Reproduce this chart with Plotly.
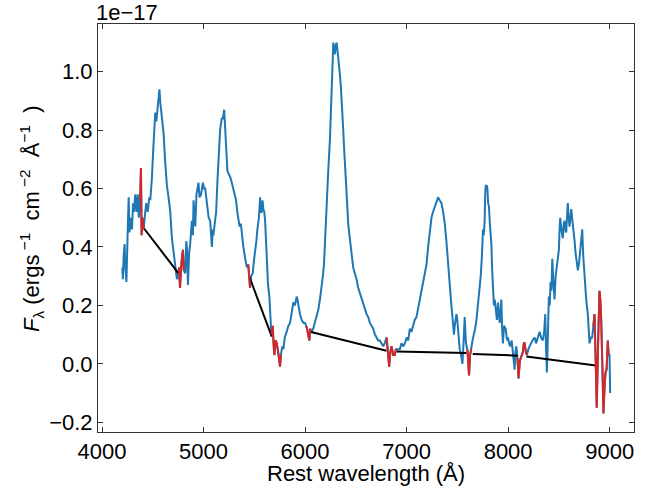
import numpy as np
import plotly.graph_objects as go

# observed spectrum, flux in units of 1e-17 erg/s/cm^2/A
wave = [4200, 4205, 4213, 4222, 4229, 4240, 4250, 4262, 4270, 4285, 4295, 4305, 4315, 4327,
        4340, 4352, 4362, 4375, 4383, 4390, 4399, 4410, 4420, 4435, 4450, 4465, 4475, 4490,
        4505, 4515, 4524, 4535, 4545, 4556, 4565, 4575, 4590, 4606, 4622, 4639, 4655, 4672,
        4688, 4705, 4721, 4737, 4750, 4758, 4768, 4778, 4787, 4797, 4805, 4819, 4830, 4836,
        4846, 4858, 4868, 4885, 4895, 4901, 4910, 4918, 4930, 4940, 4950, 4960, 4975, 4993,
        5005, 5016, 5028, 5038, 5050, 5065, 5075, 5082, 5090, 5097, 5110, 5124, 5137, 5146,
        5156, 5163, 5170, 5180, 5190, 5203, 5212, 5222, 5235, 5248, 5262, 5278, 5294, 5307,
        5320, 5332, 5343, 5355, 5367, 5380, 5392, 5410, 5426, 5440, 5450, 5458, 5468, 5484,
        5495, 5507, 5520, 5530, 5545, 5557, 5565, 5573, 5581, 5589, 5598, 5606, 5615, 5622,
        5635, 5648, 5658, 5668, 5681, 5690, 5697, 5710, 5721, 5735, 5745, 5753, 5762, 5775,
        5786, 5800, 5819, 5835, 5852, 5868, 5884, 5900, 5917, 5925, 5933, 5950, 5967, 5985,
        6000, 6010, 6020, 6030, 6042, 6050, 6058, 6065, 6080, 6097, 6115, 6130, 6146, 6163,
        6175, 6186, 6200, 6212, 6228, 6245, 6255, 6262, 6270, 6278, 6286, 6294, 6302, 6311,
        6320, 6327, 6335, 6343, 6352, 6360, 6368, 6376, 6384, 6392, 6400, 6409, 6417, 6425,
        6437, 6449, 6460, 6474, 6490, 6507, 6523, 6540, 6556, 6572, 6590, 6606, 6622, 6638,
        6655, 6671, 6688, 6704, 6720, 6737, 6753, 6769, 6785, 6802, 6815, 6828, 6840, 6852,
        6868, 6884, 6895, 6910, 6933, 6950, 6968, 6983, 7000, 7016, 7032, 7048, 7064, 7080,
        7097, 7113, 7130, 7146, 7163, 7180, 7196, 7212, 7228, 7245, 7260, 7277, 7293, 7310,
        7326, 7343, 7360, 7376, 7392, 7408, 7425, 7441, 7457, 7466, 7474, 7491, 7497, 7510,
        7523, 7537, 7550, 7562, 7572, 7585, 7598, 7605, 7615, 7625, 7638, 7650, 7661, 7675,
        7688, 7700, 7713, 7730, 7742, 7752, 7760, 7769, 7774, 7779, 7790, 7796, 7803, 7811,
        7820, 7835, 7843, 7851, 7860, 7868, 7877, 7890, 7900, 7908, 7917, 7925, 7933, 7941,
        7949, 7960, 7976, 7990, 7999, 8010, 8022, 8035, 8047, 8056, 8064, 8072, 8081, 8092,
        8103, 8115, 8130, 8145, 8155, 8162, 8175, 8185, 8200, 8210, 8225, 8240, 8261, 8275,
        8290, 8310, 8325, 8342, 8355, 8366, 8374, 8382, 8392, 8401, 8410, 8418, 8427, 8435,
        8446, 8457, 8468, 8480, 8490, 8500, 8507, 8513, 8525, 8539, 8548, 8556, 8564, 8572,
        8580, 8588, 8596, 8605, 8614, 8622, 8633, 8644, 8655, 8664, 8675, 8687, 8700, 8710,
        8720, 8730, 8740, 8753, 8769, 8785, 8795, 8802, 8815, 8828, 8840, 8851, 8862, 8873,
        8885, 8900, 8908, 8917, 8928, 8939, 8950, 8959, 8970, 8982, 8990, 8999, 9005]
flux = [0.33, 0.29, 0.37, 0.41, 0.33, 0.28, 0.42, 0.57, 0.45, 0.50, 0.46, 0.55, 0.52, 0.58,
        0.52, 0.58, 0.50, 0.56, 0.67, 0.44, 0.50, 0.46, 0.50, 0.55, 0.52, 0.57, 0.56, 0.63,
        0.74, 0.80, 0.86, 0.83, 0.86, 0.91, 0.94, 0.89, 0.84, 0.79, 0.69, 0.61, 0.57, 0.52,
        0.43, 0.38, 0.32, 0.29, 0.30, 0.33, 0.26, 0.33, 0.37, 0.39, 0.32, 0.31, 0.42, 0.40,
        0.27, 0.38, 0.41, 0.49, 0.44, 0.56, 0.50, 0.47, 0.58, 0.60, 0.62, 0.57, 0.58, 0.62,
        0.60, 0.60, 0.56, 0.54, 0.50, 0.49, 0.45, 0.40, 0.46, 0.44, 0.48, 0.52, 0.63, 0.70,
        0.74, 0.80, 0.82, 0.84, 0.84, 0.87, 0.81, 0.72, 0.66, 0.65, 0.64, 0.62, 0.60, 0.58,
        0.56, 0.52, 0.49, 0.47, 0.48, 0.43, 0.40, 0.36, 0.33, 0.34, 0.29, 0.26, 0.30, 0.31,
        0.35, 0.38, 0.42, 0.46, 0.50, 0.57, 0.52, 0.52, 0.56, 0.53, 0.52, 0.49, 0.40, 0.33,
        0.27, 0.23, 0.15, 0.10, 0.13, 0.06, 0.03, 0.08, 0.07, 0.04, 0.01, -0.01, 0.03, 0.06,
        0.05, 0.09, 0.11, 0.13, 0.14, 0.18, 0.21, 0.20, 0.23, 0.22, 0.20, 0.17, 0.15, 0.14,
        0.14, 0.13, 0.12, 0.10, 0.08, 0.12, 0.11, 0.11, 0.12, 0.14, 0.16, 0.185, 0.22, 0.26,
        0.30, 0.34, 0.45, 0.57, 0.66, 0.77, 0.85, 0.91, 1.02, 1.10, 1.07, 1.06, 1.09, 1.10,
        1.07, 1.05, 1.02, 0.99, 0.95, 0.91, 0.86, 0.80, 0.74, 0.69, 0.62, 0.57, 0.52, 0.48,
        0.44, 0.40, 0.37, 0.33, 0.31, 0.29, 0.26, 0.24, 0.23, 0.21, 0.19, 0.17, 0.16, 0.14,
        0.13, 0.12, 0.10, 0.09, 0.08, 0.08, 0.07, 0.06, 0.07, 0.09, 0.05, -0.01, 0.04, 0.06,
        0.03, 0.03, 0.05, 0.05, 0.05, 0.07, 0.06, 0.07, 0.09, 0.08, 0.12, 0.11, 0.13, 0.15,
        0.16, 0.19, 0.21, 0.25, 0.28, 0.31, 0.34, 0.40, 0.46, 0.50, 0.52, 0.54, 0.55, 0.57,
        0.56, 0.55, 0.52, 0.48, 0.42, 0.34, 0.25, 0.20, 0.14, 0.10, 0.13, 0.17, 0.16, 0.09,
        0.05, 0.03, 0.00, 0.08, 0.16, 0.07, 0.05, 0.02, -0.04, 0.03, 0.05, 0.08, 0.10, 0.12,
        0.15, 0.19, 0.24, 0.30, 0.37, 0.46, 0.44, 0.49, 0.58, 0.61, 0.61, 0.60, 0.55, 0.54,
        0.48, 0.41, 0.32, 0.24, 0.20, 0.22, 0.185, 0.15, 0.21, 0.16, 0.14, 0.18, 0.22, 0.12,
        0.07, 0.13, 0.12, 0.08, 0.09, 0.07, 0.06, 0.08, 0.03, 0.01, -0.02, 0.04, 0.06, 0.02,
        -0.05, 0.01, 0.03, 0.04, 0.07, 0.07, 0.04, 0.03, 0.05, 0.06, 0.07, 0.08, 0.09, 0.07,
        0.09, 0.11, 0.09, 0.08, 0.11, 0.17, 0.05, -0.03, 0.10, 0.23, 0.20, 0.28, 0.25, 0.36,
        0.28, 0.22, 0.30, 0.34, 0.36, 0.39, 0.46, 0.50, 0.46, 0.43, 0.48, 0.49, 0.46, 0.45,
        0.50, 0.55, 0.50, 0.47, 0.50, 0.53, 0.49, 0.46, 0.42, 0.38, 0.35, 0.32, 0.35, 0.38,
        0.41, 0.46, 0.37, 0.29, 0.22, 0.17, 0.11, 0.07, 0.09, 0.09, 0.13, 0.17, 0.02, -0.15,
        0.05, 0.25, 0.22, 0.15, 0.00, -0.17, -0.08, -0.03, -0.02, 0.08, 0.03, 0.03, -0.10]

# continuum windows (A) highlighted in red
win_lo = [4375, 4752, 5435, 5662, 6005, 6798, 7595, 8088, 8838]
win_hi = [4412, 4805, 5462, 5765, 6062, 6898, 7642, 8188, 8992]

# straight continuum segments between windows
cont_wave = [4410, 4753, None, 5451, 5672, None, 6048, 6802, None,
             6901, 7589, None, 7651, 8094, None, 8179, 8884]
cont_flux = [0.465, 0.31, None, 0.298, 0.093, None, 0.110, 0.045, None,
             0.042, 0.037, None, 0.034, 0.028, None, 0.025, -0.007]

w = np.array(wave, dtype=float)
f = np.array(flux, dtype=float)
in_win = np.zeros(len(w), dtype=bool)
for lo, hi in zip(win_lo, win_hi):
    in_win |= (w >= lo) & (w <= hi)
f_red = np.where(in_win, f, np.nan)

font = "Liberation Sans, Arial, sans-serif"
nb = "\u00a0"

fig = go.Figure()
fig.add_trace(go.Scatter(x=w, y=f, mode='lines',
                         line=dict(color='#1f77b4', width=2)))
fig.add_trace(go.Scatter(x=cont_wave, y=cont_flux, mode='lines',
                         line=dict(color='black', width=2)))
fig.add_trace(go.Scatter(x=w, y=f_red, mode='lines', connectgaps=False,
                         line=dict(color='#d62728', width=2)))

axis_style = dict(showline=True, linecolor='#333', linewidth=1, mirror='ticks',
                  ticks='inside', ticklen=5, tickcolor='#333', showgrid=False,
                  zeroline=False, tickfont=dict(size=22, color='black'))

fig.update_xaxes(range=[3960, 9240], tickvals=[4000, 5000, 6000, 7000, 8000, 9000],
                 **axis_style)
fig.update_yaxes(range=[-0.2335, 1.1635], tickvals=[-0.2, 0.0, 0.2, 0.4, 0.6, 0.8, 1.0],
                 tickformat='.1f', **axis_style)

ylabel = (f'<i>F</i><sub>λ</sub> (ergs<sup>{nb}−1</sup>{nb}{nb}cm<sup>{nb}−2</sup>'
          f'{nb}{nb}Å<sup>−1</sup>{nb}{nb})')

# axis titles and offset text as annotations so they can be placed freely
fig.add_annotation(text='Rest wavelength (Å)', xref='paper', yref='paper', x=0.5, y=0,
                   xanchor='center', yanchor='middle', yshift=-41, showarrow=False,
                   font=dict(size=22, color='black'))
fig.add_annotation(text=ylabel, xref='paper', yref='paper', x=0, y=0.5, textangle=-90,
                   xanchor='center', yanchor='middle', xshift=-67, yshift=9,
                   showarrow=False, font=dict(size=22, color='black'))
fig.add_annotation(text='1e−17', xref='paper', yref='paper', x=0, y=1,
                   xanchor='left', yanchor='bottom', showarrow=False,
                   font=dict(size=22, color='black'), xshift=-4, yshift=-3)

fig.update_layout(width=654, height=491, showlegend=False,
                  plot_bgcolor='white', paper_bgcolor='white',
                  font=dict(family=font, color='black'),
                  margin=dict(l=98, r=20, t=24, b=59, autoexpand=False))

# drop the browser's default body margin so the figure sits at the page corner
fig.write_html("out.html", config={'displayModeBar': False},
               post_script="document.body.style.margin='0';")
